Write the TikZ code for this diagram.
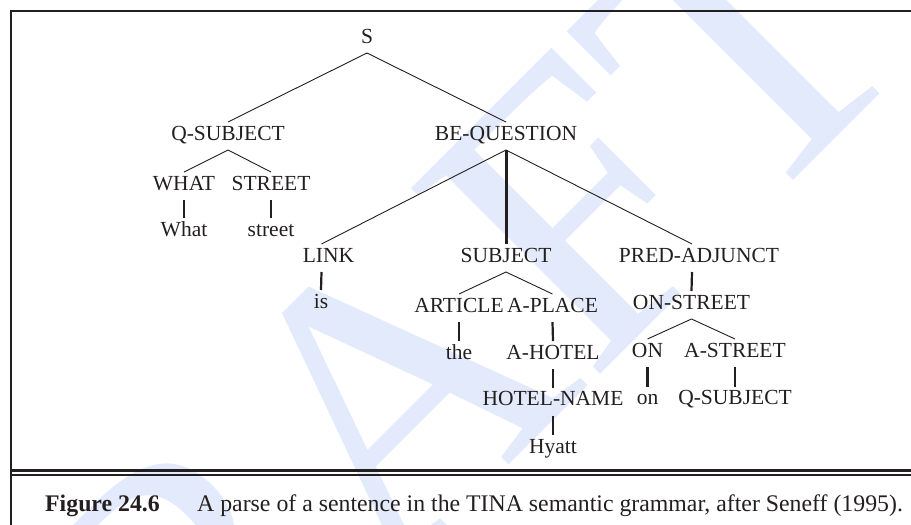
\documentclass[tikz,border=0pt]{standalone}
\usepackage{fontspec}
\setmainfont{Liberation Serif}
\definecolor{ink}{RGB}{35,31,32}
\definecolor{wmblue}{RGB}{226,234,251}
\newcommand{\treefont}{\fontsize{21.5}{24}\selectfont}
\newcommand{\capfont}{\fontsize{23.8}{27}\selectfont}
\begin{document}
\begin{tikzpicture}[x=1pt,y=-1pt,
  tn/.style={font=\treefont, text=ink, text height=14pt, text depth=6pt,
             inner xsep=1pt, inner ysep=0pt, outer ysep=4pt, anchor=base},
  dg/.style={draw=ink, line width=0.9pt},
  vt/.style={draw=ink, line width=2.2pt},
  vthick/.style={draw=ink, line width=3pt},
  rule/.style={draw=ink}]
\useasboundingbox (0,0) rectangle (911,525);
\clip (0,0) rectangle (911,525);
% watermark
\node[rotate=45, font=\fontsize{405}{405}\selectfont, text=wmblue, inner sep=0pt] (wm) at (361,425) {DRAFT};
% frame
\coordinate (fbl) at (11,525);
\coordinate (ftl) at (11,11);
\coordinate (ftr) at (911,11);
\draw[rule, line width=2pt] (fbl) -- (ftl) -- (ftr);
\coordinate (r1a) at (11,470.8); \coordinate (r1b) at (911,470.8);
\coordinate (r2a) at (11,475.2); \coordinate (r2b) at (911,475.2);
\draw[rule, line width=3pt] (r1a) -- (r1b);
\draw[rule, line width=1.6pt] (r2a) -- (r2b);
% caption
\node[anchor=base west, font=\capfont\bfseries, text=ink, inner sep=0pt] (fig) at (45,511) {Figure 24.6};
\node[anchor=base west, font=\capfont, text=ink, inner sep=0pt] (cap) at (197,511) {A parse of a sentence in the TINA semantic grammar, after Seneff (1995).};
% tree nodes
\node[tn] (s) at (367,43) {S};
\node[tn] (qs) at (228,140) {Q-SUBJECT};
\node[tn] (beq) at (506,140) {BE-QUESTION};
\node[tn] (what) at (184,190) {WHAT};
\node[tn] (street) at (271,190) {STREET};
\node[tn] (whatw) at (184,236) {What};
\node[tn] (streetw) at (271,236) {street};
\node[tn] (link) at (328.5,262) {LINK};
\node[tn] (subj) at (506,262) {SUBJECT};
\node[tn] (pa) at (699,262) {PRED-ADJUNCT};
\node[tn] (is) at (321,308) {is};
\node[tn] (art) at (459,312) {ARTICLE};
\node[tn] (apl) at (552.5,312) {A-PLACE};
\node[tn] (ons) at (691.5,309) {ON-STREET};
\node[tn] (the) at (459,359) {the};
\node[tn] (ahot) at (553,359) {A-HOTEL};
\node[tn] (on) at (647.5,357) {ON};
\node[tn] (ast) at (735,357) {A-STREET};
\node[tn] (hn) at (553,405.5) {HOTEL-NAME};
\node[tn] (onw) at (647.5,404.5) {on};
\node[tn] (qs2) at (735,404.5) {Q-SUBJECT};
\node[tn] (hy) at (553,453) {Hyatt};
% edges
\draw[dg] (s.south) -- (qs.north);
\draw[dg] (s.south) -- (beq.north);
\draw[dg] (qs.south) -- (what.north);
\draw[dg] (qs.south) -- (street.north);
\draw[vt] (what.south) -- (whatw.north);
\draw[vt] (street.south) -- (streetw.north);
\draw[dg] (beq.south) -- ([xshift=-7pt]link.north);
\draw[vthick] (beq.south) -- (subj.north);
\draw[dg] (beq.south) -- ([xshift=-7pt]pa.north);
\draw[vt] ([xshift=-7pt]link.south) -- (is.north);
\draw[dg] (subj.south) -- (art.north);
\draw[dg] (subj.south) -- (apl.north);
\draw[vt] (art.south) -- (the.north);
\draw[vt] (apl.south) -- (ahot.north);
\draw[vt] (ahot.south) -- (hn.north);
\draw[vt] (hn.south) -- (hy.north);
\draw[vt] ([xshift=-7pt]pa.south) -- (ons.north);
\draw[dg] (ons.south) -- (on.north);
\draw[dg] (ons.south) -- (ast.north);
\draw[vt] (on.south) -- (onw.north);
\draw[vt] (ast.south) -- (qs2.north);
\end{tikzpicture}
\end{document}
